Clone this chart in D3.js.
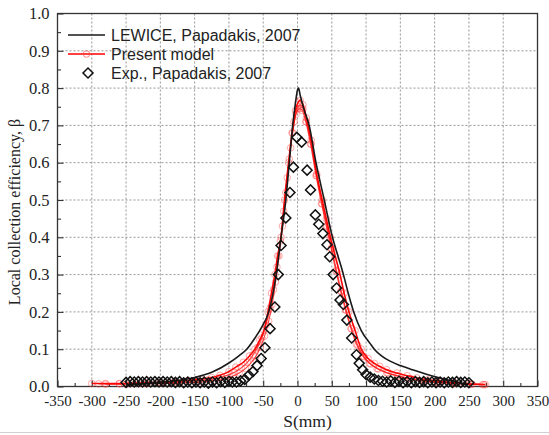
<!DOCTYPE html>
<html><head><meta charset="utf-8">
<script src="https://cdn.jsdelivr.net/npm/d3@7"></script>
<style>body{margin:0;background:#fff}svg{display:block}</style>
</head><body>
<svg id="c" width="549" height="435"></svg>
<script>
// ---- data ----
const xTicks = [-350,-300,-250,-200,-150,-100,-50,0,50,100,150,200,250,300,350];
const yTicks = [0,0.1,0.2,0.3,0.4,0.5,0.6,0.7,0.8,0.9,1.0];
const legendLabels = ["LEWICE, Papadakis, 2007","Present model","Exp., Papadakis, 2007"];

const lewiceS = [-250,-225,-200,-175,-150,-125,-100,-85,-74,-62,-52,-42,-31,-24,-17,-12,-7,-3,0,1.5,4,10,17,27,39,51,59,67,74,82,93,106,112,122,135,150,169,188,208,228,248];
const lewiceB = [0.004,0.007,0.011,0.016,0.024,0.038,0.063,0.083,0.10,0.13,0.16,0.20,0.30,0.40,0.50,0.60,0.70,0.76,0.795,0.80,0.78,0.74,0.70,0.60,0.50,0.40,0.35,0.30,0.25,0.20,0.15,0.115,0.10,0.083,0.068,0.056,0.044,0.033,0.023,0.014,0.005];

const presentAS = [-300,-280,-260,-240,-220,-200,-180,-160,-140,-125,-113,-100,-90,-79,-70,-62,-55,-49,-43,-38,-33,-29,-24,-19,-13,-8,-3,1,4,8,13,20,28,36,42,48,55,62,68,75,84,93,103,112,120,130,145,160,174,190,208,230,250,274];
const presentAB = [0.008,0.008,0.008,0.009,0.010,0.011,0.013,0.016,0.020,0.024,0.030,0.040,0.052,0.065,0.082,0.10,0.125,0.15,0.20,0.25,0.30,0.35,0.40,0.50,0.60,0.68,0.74,0.762,0.767,0.755,0.72,0.66,0.57,0.50,0.45,0.40,0.35,0.30,0.25,0.20,0.15,0.10,0.075,0.062,0.054,0.045,0.036,0.029,0.023,0.018,0.014,0.010,0.007,0.005];

const presentBS = [-290,-260,-230,-200,-175,-150,-130,-115,-102,-92,-82,-73,-65,-58,-52,-46,-40,-35,-30,-25,-20,-15,-10,-5,0,4,8,13,20,28,36,43,50,57,64,71,79,88,97,107,118,132,148,165,185,205,230,255,272];
const presentBB = [0.007,0.007,0.008,0.009,0.011,0.014,0.018,0.023,0.030,0.038,0.050,0.065,0.085,0.105,0.13,0.165,0.21,0.26,0.32,0.39,0.47,0.56,0.64,0.71,0.745,0.755,0.745,0.71,0.65,0.565,0.49,0.43,0.37,0.31,0.255,0.205,0.155,0.11,0.08,0.06,0.047,0.036,0.028,0.021,0.015,0.011,0.008,0.006,0.005];

const presentCS = [-280,-250,-220,-190,-165,-140,-120,-105,-94,-85,-76,-68,-61,-54,-48,-42,-37,-32,-27,-22,-17,-12,-7,-2,3,7,12,19,27,35,42,49,56,63,70,78,86,95,105,116,130,146,164,184,205,228,252,270];
const presentCB = [0.006,0.006,0.007,0.008,0.010,0.012,0.016,0.021,0.028,0.036,0.048,0.063,0.08,0.105,0.135,0.175,0.22,0.28,0.35,0.43,0.52,0.61,0.68,0.73,0.745,0.74,0.71,0.65,0.565,0.49,0.43,0.37,0.31,0.255,0.205,0.155,0.113,0.082,0.062,0.048,0.037,0.028,0.021,0.015,0.011,0.008,0.006,0.005];

const expS = [-250,-244,-238,-232,-226,-220,-214,-208,-202,-196,-190,-184,-178,-172,-166,-160,-154,-148,-142,-136,-130,-124,-118,-112,-106,-100,-95,-89,-83,-77,-71,-65,-59,-53,-47.5,-40,-33,-28,-24,-17,-11,-6,-1,6,14,19,26,31,37,43,47,52,57,62,67,72,79,86,90,95,100,106,112,118,124,130,136,142,148,154,160,166,172,178,184,190,196,202,208,214,220,226,232,238,244,250];
const expB = [0.011,0.013,0.012,0.013,0.012,0.013,0.012,0.013,0.012,0.013,0.012,0.013,0.011,0.013,0.010,0.012,0.010,0.012,0.010,0.012,0.009,0.012,0.010,0.013,0.011,0.014,0.012,0.012,0.015,0.019,0.030,0.040,0.056,0.075,0.104,0.155,0.213,0.30,0.378,0.452,0.52,0.588,0.668,0.655,0.58,0.527,0.46,0.435,0.41,0.38,0.348,0.30,0.264,0.232,0.22,0.178,0.13,0.085,0.062,0.045,0.032,0.025,0.020,0.016,0.014,0.012,0.015,0.011,0.014,0.010,0.013,0.010,0.013,0.011,0.013,0.010,0.012,0.010,0.012,0.010,0.012,0.011,0.013,0.011,0.012,0.010];

// ---- layout ----
const svg = d3.select("#c");
const L = 57.5, R = 537.5, T = 13.5, B = 386.5;
const x = d3.scaleLinear().domain([-350,350]).range([L,R]);
const y = d3.scaleLinear().domain([0,1]).range([B,T]);
const serif = "'Liberation Serif','DejaVu Serif',serif";
const sans = "'Liberation Sans',Arial,sans-serif";

svg.append("line").attr("x1",0).attr("x2",549).attr("y1",432.5).attr("y2",432.5).attr("stroke","#d0d0d0");

// grid
const g = svg.append("g");
g.selectAll("line.vg").data(xTicks.slice(1,-1)).join("line")
  .attr("x1",d=>x(d)).attr("x2",d=>x(d)).attr("y1",T).attr("y2",B)
  .attr("stroke","#8a8a8a").attr("stroke-width",0.9).attr("stroke-dasharray","2,2");
g.selectAll("line.hg").data(yTicks.slice(1,-1)).join("line")
  .attr("x1",L).attr("x2",R).attr("y1",d=>y(d)).attr("y2",d=>y(d))
  .attr("stroke","#8a8a8a").attr("stroke-width",0.9).attr("stroke-dasharray","2,2");

// axes
const xAxis = d3.axisBottom(x).tickValues(xTicks).tickSize(-6).tickPadding(9).tickFormat(d=>d);
const yAxis = d3.axisLeft(y).tickValues(yTicks).tickSize(-6).tickPadding(8).tickFormat(d3.format(".1f"));
const xMinor = d3.axisBottom(x).tickValues(d3.range(-325,350,50)).tickSize(-3.5).tickFormat("");
const yMinor = d3.axisLeft(y).tickValues(d3.range(0.05,1,0.1)).tickSize(-3.5).tickFormat("");
function styleAxis(sel, fs){
  sel.select(".domain").remove();
  sel.selectAll("line").attr("stroke","#333").attr("stroke-width",1.1);
  sel.selectAll("text").attr("font-family",serif).attr("font-size",fs).attr("fill","#222");
}
svg.append("g").attr("transform",`translate(0,${B})`).call(xAxis).call(styleAxis,15);
svg.append("g").attr("transform",`translate(${L},0)`).call(yAxis).call(styleAxis,16.5);
svg.append("g").attr("transform",`translate(0,${B})`).call(xMinor).call(styleAxis,15);
svg.append("g").attr("transform",`translate(${L},0)`).call(yMinor).call(styleAxis,15);

svg.append("rect").attr("x",L).attr("y",T).attr("width",R-L).attr("height",B-T)
  .attr("fill","none").attr("stroke","#333").attr("stroke-width",1.3);

// titles
svg.append("text").attr("x",(L+R)/2+10).attr("y",427).attr("text-anchor","middle")
  .attr("font-family",serif).attr("font-size",17.5).attr("fill","#222").text("S(mm)");
svg.append("text").attr("transform","translate(20,212) rotate(-90)").attr("text-anchor","middle")
  .attr("font-family",serif).attr("font-size",16).attr("fill","#222").text("Local collection efficiency, β");

// series
const line = d3.line().x(d=>x(d[0])).y(d=>y(d[1])).curve(d3.curveMonotoneX);
const zip = (a,b)=>a.map((v,i)=>[v,b[i]]);
const plot = svg.append("g");
const reds = [zip(presentCS,presentCB), zip(presentBS,presentBB), zip(presentAS,presentAB)];
reds.forEach((pts,k)=>{
  plot.append("path").datum(pts).attr("d",line).attr("fill","none")
    .attr("stroke","#ff0000").attr("stroke-width",k===2?1.6:1.1).attr("stroke-opacity",k===2?1:0.75);
  plot.append("g").selectAll("circle").data(pts).join("circle")
    .attr("cx",d=>x(d[0])).attr("cy",d=>y(d[1])).attr("r",3.3)
    .attr("fill","none").attr("stroke","#ff4040").attr("stroke-opacity",0.45).attr("stroke-width",1);
});
plot.append("path").datum(zip(lewiceS,lewiceB)).attr("d",line).attr("fill","none")
  .attr("stroke","#1a1a1a").attr("stroke-width",1.6);
const diamond = d3.symbol().type(d3.symbolSquare).size(50);
plot.append("g").selectAll("path").data(zip(expS,expB)).join("path")
  .attr("d",diamond).attr("transform",d=>`translate(${x(d[0])},${y(d[1])}) rotate(45)`)
  .attr("fill","none").attr("stroke","#111").attr("stroke-width",1.5);

// legend
const lg = svg.append("g");
const rows = [35,54,73];
lg.append("line").attr("x1",68).attr("x2",105).attr("y1",rows[0]).attr("y2",rows[0]).attr("stroke","#1a1a1a").attr("stroke-width",1.6);
lg.append("line").attr("x1",68).attr("x2",105).attr("y1",rows[1]).attr("y2",rows[1]).attr("stroke","#ff0000").attr("stroke-width",1.6);
lg.append("circle").attr("cx",86.5).attr("cy",rows[1]).attr("r",3.3).attr("fill","none").attr("stroke","#ff4040").attr("stroke-opacity",0.6);
lg.append("path").attr("d",diamond).attr("transform",`translate(88,${rows[2]}) rotate(45)`).attr("fill","none").attr("stroke","#111").attr("stroke-width",1.5);
lg.selectAll("text").data(legendLabels).join("text")
  .attr("x",111).attr("y",(d,i)=>rows[i]+5.5).attr("font-family",sans).attr("font-size",16).attr("fill","#222").text(d=>d);
</script>
</body></html>
